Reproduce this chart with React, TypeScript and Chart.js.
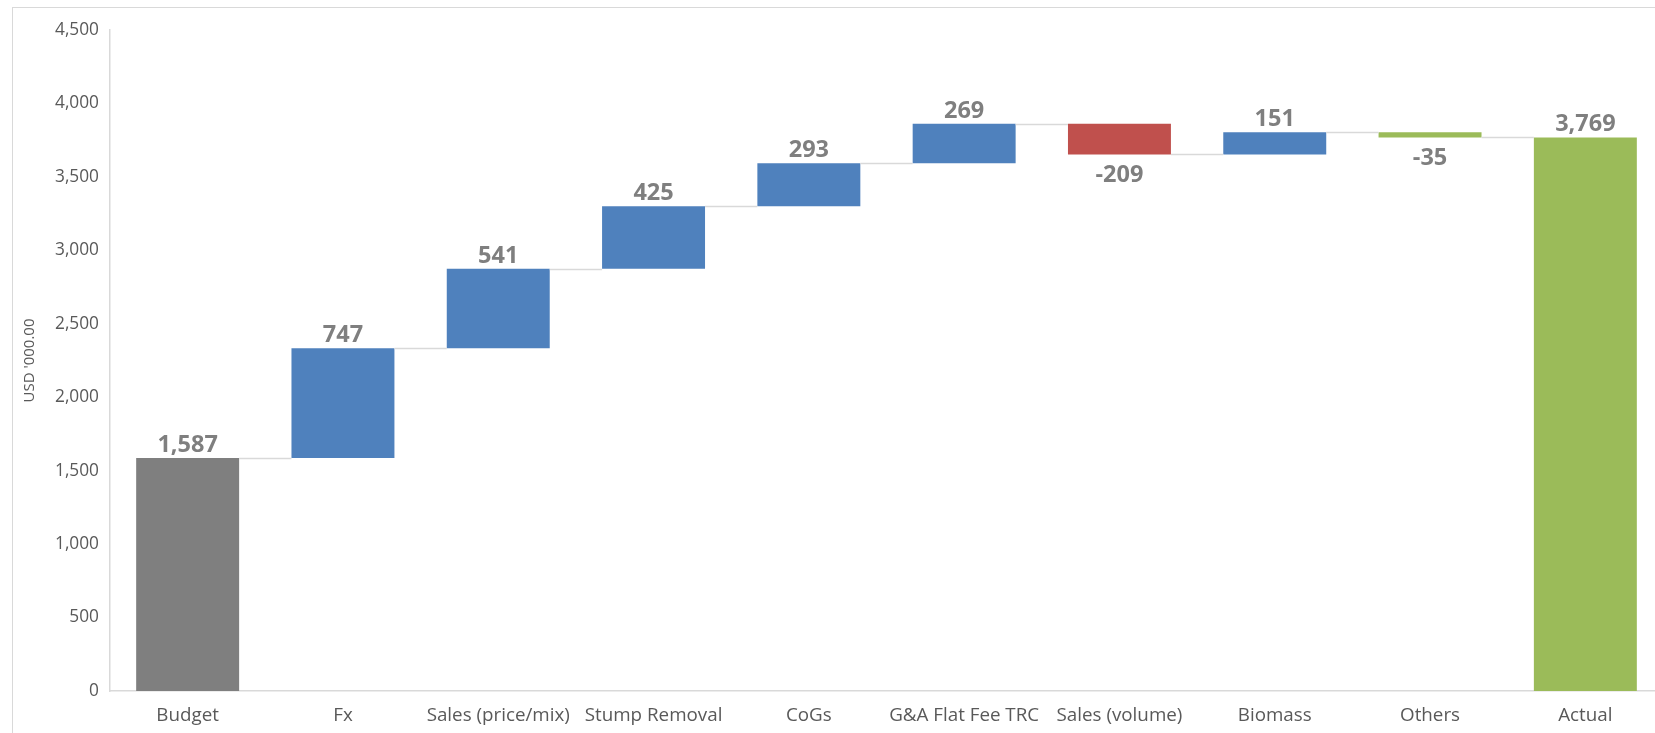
import React, { useEffect, useRef } from "react";
import { Chart, registerables } from "chart.js";

Chart.register(...registerables);

const categories = [
  "Budget",
  "Fx",
  "Sales (price/mix)",
  "Stump Removal",
  "CoGs",
  "G&A Flat Fee TRC",
  "Sales (volume)",
  "Biomass",
  "Others",
  "Actual",
];
const changes = [1587, 747, 541, 425, 293, 269, -209, 151, -35, 3769];
const isTotal = [true, false, false, false, false, false, false, false, false, true];
const barColors = [
  "#7f7f7f",
  "#4f81bd",
  "#4f81bd",
  "#4f81bd",
  "#4f81bd",
  "#4f81bd",
  "#c0504d",
  "#4f81bd",
  "#9bbb59",
  "#9bbb59",
];
const yMin = 0;
const yMax = 4500;
const yStep = 500;
const yTitle = "USD '000.00";

const FONT = "'Open Sans', 'Noto Sans', sans-serif";

function buildRanges(): [number, number][] {
  const out: [number, number][] = [];
  let running = 0;
  changes.forEach((v, i) => {
    if (isTotal[i]) {
      out.push([0, v]);
      running = v;
    } else {
      out.push([running, running + v]);
      running += v;
    }
  });
  return out;
}

const fmt = (v: number) => v.toLocaleString("en-US");

const waterfallPlugin = {
  id: "waterfallExtras",
  afterDatasetsDraw(chart: any) {
    const ctx = chart.ctx;
    const meta = chart.getDatasetMeta(0);
    const y = chart.scales.y;
    const ranges = chart.data.datasets[0].data as [number, number][];
    ctx.save();
    // connectors
    ctx.strokeStyle = "#d9d9d9";
    ctx.lineWidth = 1.5;
    for (let i = 0; i < ranges.length - 1; i++) {
      const a: any = meta.data[i];
      const b: any = meta.data[i + 1];
      const level = ranges[i][1];
      const py = Math.round(y.getPixelForValue(level)) + 0.5;
      ctx.beginPath();
      ctx.moveTo(a.x + a.width / 2, py);
      ctx.lineTo(b.x - b.width / 2, py);
      ctx.stroke();
    }
    // labels
    ctx.fillStyle = "#7f7f7f";
    ctx.font = `bold 23.5px ${FONT}`;
    ctx.textAlign = "center";
    ctx.textBaseline = "alphabetic";
    for (let i = 0; i < ranges.length; i++) {
      const el: any = meta.data[i];
      const v = changes[i];
      const top = y.getPixelForValue(Math.max(ranges[i][0], ranges[i][1]));
      const bottom = y.getPixelForValue(Math.min(ranges[i][0], ranges[i][1]));
      if (v >= 0) {
        ctx.fillText(fmt(v), el.x, top - 6);
      } else {
        ctx.fillText(fmt(v), el.x, bottom + 28);
      }
    }
    ctx.restore();
  },
};

export default function App() {
  const canvasRef = useRef<HTMLCanvasElement>(null);

  useEffect(() => {
    document.body.style.margin = "0";
    document.body.style.overflow = "hidden";
    const canvas = canvasRef.current;
    if (!canvas) return;
    const chart = new Chart(canvas, {
      type: "bar",
      data: {
        labels: categories,
        datasets: [
          {
            data: buildRanges() as any,
            backgroundColor: barColors,
            borderWidth: 0,
            borderSkipped: false,
            categoryPercentage: 1,
            barPercentage: 0.663,
          },
        ],
      },
      options: {
        responsive: false,
        animation: false,
        maintainAspectRatio: false,
        layout: { padding: { left: 0, top: 30, right: 17, bottom: 0 } },
        plugins: {
          legend: { display: false },
          tooltip: { enabled: false },
          title: { display: false },
        },
        scales: {
          x: {
            grid: { display: false, drawTicks: false },
            border: { display: true, color: "#d9d9d9", width: 1.5 },
            ticks: {
              color: "#595959",
              font: { family: FONT, size: 18.8 },
              padding: 13,
              maxRotation: 0,
              autoSkip: false,
            },
            afterFit: (s: any) => {
              s.height = 42;
            },
          },
          y: {
            min: yMin,
            max: yMax,
            grid: { display: false, drawTicks: false },
            border: { display: true, color: "#d9d9d9", width: 1.5 },
            ticks: {
              stepSize: yStep,
              color: "#595959",
              font: { family: FONT, size: 17.3 },
              padding: 11,
              callback: (v: any) => fmt(Number(v)),
            },
            title: {
              display: true,
              text: yTitle,
              color: "#595959",
              font: { family: FONT, size: 15 },
              padding: { top: 21, bottom: 0 },
            },
            afterFit: (s: any) => {
              s.width = 110;
            },
          },
        },
      },
      plugins: [waterfallPlugin],
    });
    return () => chart.destroy();
  }, []);

  return (
    <div
      style={{
        position: "absolute",
        left: 0,
        top: 0,
        width: 1655,
        height: 733,
        overflow: "hidden",
        background: "#ffffff",
      }}
    >
      <div
        style={{
          position: "absolute",
          left: 12,
          top: 7,
          width: 1700,
          height: 800,
          border: "1.5px solid #d9d9d9",
          boxSizing: "border-box",
        }}
      />
      <canvas
        ref={canvasRef}
        width={1680}
        height={733}
        style={{ position: "absolute", left: 0, top: 0, width: 1680, height: 733 }}
      />
    </div>
  );
}
